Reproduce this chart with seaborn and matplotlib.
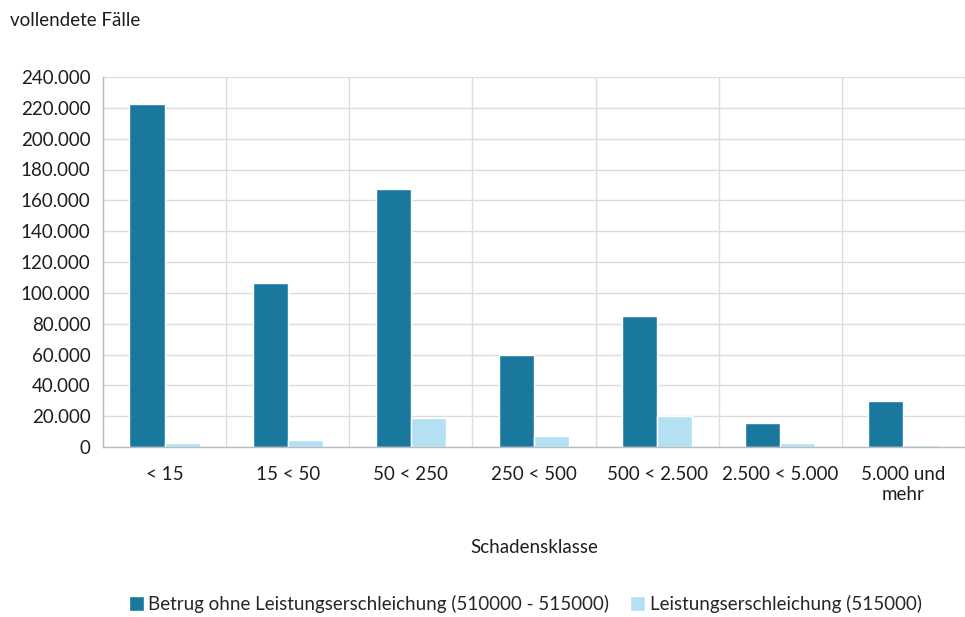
import numpy as np
import pandas as pd
import matplotlib.pyplot as plt
import matplotlib.ticker as mticker
import seaborn as sns

klassen = ["< 15", "15 < 50", "50 < 250", "250 < 500", "500 < 2.500",
           "2.500 < 5.000", "5.000 und\nmehr"]
betrug = [222500, 106500, 167300, 59800, 85000, 15600, 29800]
leistung = [2500, 4500, 18800, 7300, 20100, 2600, 1300]
serien = ["Betrug ohne Leistungserschleichung (510000 - 515000)",
          "Leistungserschleichung (515000)"]
farben = ["#1a789e", "#b3e1f3"]

df = pd.DataFrame({
    "klasse": klassen * 2,
    "wert": betrug + leistung,
    "serie": [serien[0]] * len(klassen) + [serien[1]] * len(klassen),
})

sns.set_style("white")
plt.rcParams["font.family"] = ["Lato", "DejaVu Sans"]
FS = 13.5

fig = plt.figure(figsize=(9.65, 6.17), dpi=100)
ax = fig.add_axes([103 / 965, 1 - 447 / 617, 862 / 965, 370 / 617])

sns.barplot(data=df, x="klasse", y="wert", hue="serie", palette=farben,
            width=0.57, saturation=1, ax=ax, legend=True)

ax.set_ylim(0, 240000)
ax.set_xlim(-0.5, len(klassen) - 0.5)
ax.yaxis.set_major_locator(mticker.MultipleLocator(20000))
ax.yaxis.set_major_formatter(mticker.FuncFormatter(lambda v, p: f"{int(v):,}".replace(",", ".")))

ax.set_xticks(np.arange(len(klassen)))
ax.set_xticklabels(klassen, fontsize=FS, color="#1e1e1e")
ax.set_xticks(np.arange(-0.5, len(klassen)), minor=True)
ax.tick_params(axis="x", which="major", length=0, pad=14)
ax.tick_params(axis="x", which="minor", length=7, color="#b8bcc0", width=1)
ax.tick_params(axis="y", which="major", length=6, color="#b8bcc0", labelsize=FS,
               labelcolor="#1e1e1e", pad=3)

ax.grid(axis="y", which="major", color="#dcdcdc", linewidth=1)
ax.grid(axis="x", which="minor", color="#dcdcdc", linewidth=1)
ax.set_axisbelow(True)

for s in ["top", "right"]:
    ax.spines[s].set_visible(False)
for s in ["left", "bottom"]:
    ax.spines[s].set_color("#b8bcc0")
    ax.spines[s].set_linewidth(1)

ax.set_xlabel("Schadensklasse", fontsize=FS, color="#1e1e1e", labelpad=26)
ax.set_ylabel("")
fig.text(10 / 965, 1 - 20 / 617, "vollendete Fälle", fontsize=FS,
         color="#1e1e1e", va="center", ha="left")

handles, labels = ax.get_legend_handles_labels()
ax.legend_.remove()
fig.legend(handles, labels, loc="center", bbox_to_anchor=(525 / 965, 1 - 604 / 617),
           ncol=2, frameon=False, fontsize=FS, handlelength=0.8, handleheight=0.8,
           handletextpad=0.25, columnspacing=1.1)

fig.savefig("out.png", dpi=100)
